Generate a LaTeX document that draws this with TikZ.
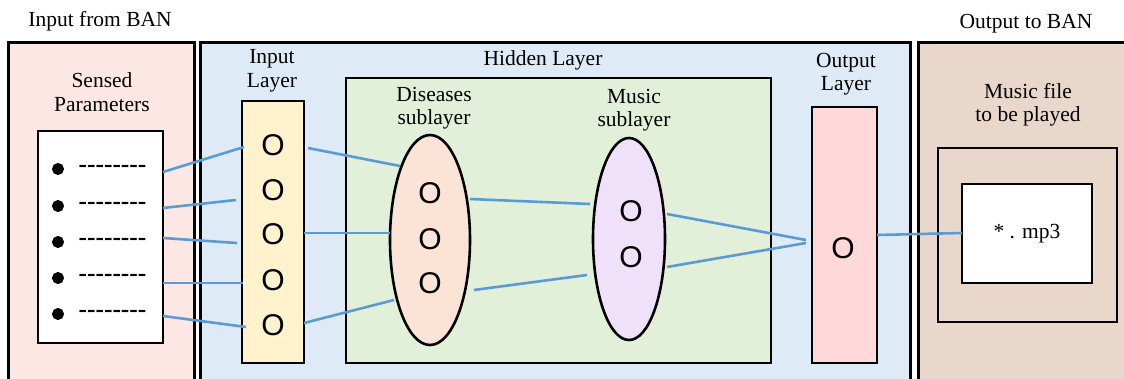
\documentclass[tikz,border=0pt]{standalone}
\usepackage{fontspec}
\setmainfont{Liberation Serif}
\newfontfamily\neuronfont{Liberation Sans}
\usetikzlibrary{shapes.geometric}

\definecolor{inpanel}{RGB}{253,231,229}
\definecolor{hidpanel}{RGB}{222,234,246}
\definecolor{outpanel}{RGB}{234,215,204}
\definecolor{inlayer}{RGB}{255,242,204}
\definecolor{hidbox}{RGB}{226,239,217}
\definecolor{disfill}{RGB}{251,228,213}
\definecolor{musfill}{RGB}{240,225,250}
\definecolor{outlayer}{RGB}{255,217,217}
\definecolor{link}{RGB}{91,155,213}

\newcommand\dashrow{\fontsize{25.5}{25.5}\selectfont\bfseries -{}-{}-{}-{}-{}-{}-{}-}

\tikzset{
  panel/.style={draw=black, line width=3pt, rectangle, inner sep=0pt},
  box/.style={draw=black, line width=2.6pt, rectangle, inner sep=0pt},
  sublayer/.style={draw=black, line width=2.6pt, ellipse, inner sep=0pt},
  lbl/.style={font=\fontsize{21.5}{23.5}\selectfont, align=center, inner sep=0pt},
  neuron/.style={font=\neuronfont\fontsize{30}{30}\selectfont, inner sep=0pt},
  bul/.style={circle, fill=black, draw=black, line width=1pt, minimum size=11pt, inner sep=0pt},
  dashes/.style={inner sep=0pt},
  link/.style={draw=link, line width=2.6pt},
}

\begin{document}
\begin{tikzpicture}[x=1pt, y=-1pt]
\useasboundingbox (0,0) rectangle (1124,378);
\clip (0,0) rectangle (1124,378);
\fill[white] (0,0) rectangle (1124,378);

% three panels
\node[panel, fill=inpanel, minimum width=186pt, minimum height=360pt] (inP) at (101,222) {};
\node[panel, fill=hidpanel, minimum width=710pt, minimum height=360pt] (hidP) at (555,222) {};
\node[panel, fill=outpanel, minimum width=240pt, minimum height=360pt] (outP) at (1038,222) {};

\node[lbl] (inT) at (100,21) {Input from BAN};
\node[lbl] (outT) at (1026,24) {Output to BAN};

% sensed parameters
\node[lbl] (sensT) at (102,92) {Sensed\\Parameters};
\node[box, fill=white, minimum width=125pt, minimum height=212pt] (sens) at (100.5,237) {};
\foreach \i/\y in {1/169,2/206,3/242,4/278,5/314}{
  \node[bul] (b\i) at (58,\y) {};
  \node[dashes] (d\i) at (112.5,\y) {\dashrow};
}

% input layer
\node[lbl] (inLT) at (272,71) {Input\\Layer};
\node[box, fill=inlayer, minimum width=62pt, minimum height=262pt] (inL) at (273,232) {};
\foreach \i/\y in {1/145,2/190,3/234,4/280,5/325}{
  \node[neuron] (i\i) at (273,\y) {O};
}

% hidden layer
\node[lbl] (hidT) at (543,60) {Hidden Layer};
\node[box, fill=hidbox, minimum width=425pt, minimum height=285pt] (hid) at (558.5,220.5) {};

\node[lbl] (disT) at (434,108) {Diseases\\sublayer};
\node[sublayer, fill=disfill, minimum width=80pt, minimum height=210pt] (dis) at (430,240) {};
\foreach \i/\y in {1/193,2/239,3/283}{
  \node[neuron] (h\i) at (430,\y) {O};
}

\node[lbl] (musT) at (634,110) {Music\\sublayer};
\node[sublayer, fill=musfill, minimum width=72pt, minimum height=202pt] (mus) at (629,239) {};
\foreach \i/\y in {1/211,2/257}{
  \node[neuron] (m\i) at (631,\y) {O};
}

% output layer
\node[lbl] (outLT) at (846,74) {Output\\Layer};
\node[box, fill=outlayer, minimum width=65pt, minimum height=256pt] (outL) at (844.5,235) {};
\node[neuron] (o1) at (843,248) {O};

% music file
\node[lbl] (fileT) at (1028,104.5) {Music file\\to be played};
\node[box, minimum width=179pt, minimum height=174pt] (frame) at (1027.5,235) {};
\node[box, fill=white, minimum width=130pt, minimum height=99pt] (file) at (1027,233.5) {};
\node[lbl] (mp3) at (1027,234) {* . mp3};

% connector end points
\coordinate (s1) at (163,172);  \coordinate (e1) at (244,147);
\coordinate (s2) at (163,208);  \coordinate (e2) at (236,200);
\coordinate (s3) at (163,238);  \coordinate (e3) at (237,243);
\coordinate (s4) at (163,283);  \coordinate (e4) at (243,283);
\coordinate (s5) at (163,316);  \coordinate (e5) at (246,327);

\coordinate (ia) at (308,148);  \coordinate (da) at (400,166);
\coordinate (ib) at (304,233);  \coordinate (db) at (390,233);
\coordinate (ic) at (304,323);  \coordinate (dc) at (394,300);

\coordinate (dd) at (470,199);  \coordinate (md) at (590,204);
\coordinate (de) at (474,290);  \coordinate (me) at (587,275);

\coordinate (mf) at (667,214);  \coordinate (of) at (806,240);
\coordinate (mg) at (667,267);  \coordinate (og) at (806,243);

\coordinate (oh) at (877,235);  \coordinate (fh) at (962,233);

% connectors
\foreach \i in {1,...,5}{ \draw[link] (s\i) -- (e\i); }
\draw[link] (ia) -- (da);
\draw[link] (ib) -- (db);
\draw[link] (ic) -- (dc);
\draw[link] (dd) -- (md);
\draw[link] (de) -- (me);
\draw[link] (mf) -- (of);
\draw[link] (mg) -- (og);
\draw[link] (oh) -- (fh);
\end{tikzpicture}
\end{document}
